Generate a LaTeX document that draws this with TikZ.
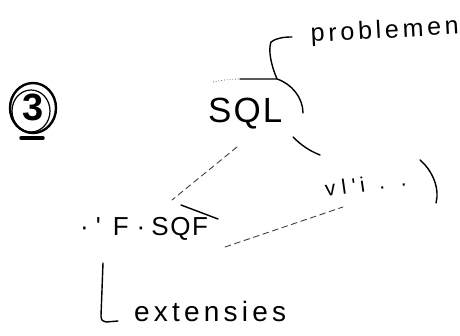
\documentclass[tikz,border=0pt]{standalone}
\usepackage{fontspec}
\newfontfamily\hand[LetterSpace=15]{Liberation Sans}
\newfontfamily\handN[LetterSpace=6]{Liberation Sans}
\begin{document}
\begin{tikzpicture}[x=1pt,y=-1pt,
  pen/.style={line width=1.4pt, line cap=round, line join=round, black},
  faint/.style={line width=0.9pt, line cap=round, dashed, dash pattern=on 6pt off 4pt, black!75},
  lbl/.style={inner sep=0pt, font=\hand}]
\useasboundingbox (0,0) rectangle (460,336);
\fill[white] (0,0) rectangle (460,336);
% circled 3
\node[lbl, font=\handN\bfseries\fontsize{38}{38}\selectfont] (three) at (33,107) {3};
\draw[line width=2.4pt] (33,108) circle [x radius=23pt, y radius=25pt];
\draw[line width=1.2pt] (31,111) circle [x radius=19pt, y radius=21pt];
\draw[line width=3.5pt, line cap=round] (21,138) -- (43,138);
% texts
\node[lbl, font=\handN\fontsize{35}{35}\selectfont, anchor=base west] (sql) at (208,123) {SQL};
\node[lbl, font=\hand\fontsize{25}{25}\selectfont, rotate=3, anchor=base west] (prob) at (311,42) {problemen};
\node[lbl, font=\handN\fontsize{26}{26}\selectfont, anchor=base west] (udf) at (80,236) {·\kern7pt'\kern12pt F\kern8pt·\kern6pt SQF};
\node[lbl, font=\hand\fontsize{21}{21}\selectfont, rotate=8, anchor=base west] (vlf) at (326,197) {v\kern6pt l\kern6pt '\kern4pt i\kern14pt .\kern16pt .};
\node[lbl, font=\hand\fontsize{28}{28}\selectfont, anchor=base west] (ext) at (134,321) {extensies};
% named points
\coordinate (arcL) at (213,82);
\coordinate (arcT) at (277,79);
\coordinate (arcR) at (303,113);
\coordinate (brTop) at (292,37);
\coordinate (sqlSE) at (293,137);
\coordinate (sqlSEend) at (320,155);
\coordinate (sqlSW) at (237,147);
\coordinate (udfNE) at (172,200);
\coordinate (udfE) at (225,247);
\coordinate (vlfW) at (343,207);
\coordinate (parT) at (420,160);
\coordinate (parB) at (436,203);
\coordinate (Ltop) at (103,263);
\coordinate (Lend) at (118,321);
% arc around SQL and bracket to problemen
\draw[line width=0.8pt, black!60, dotted] (arcL) .. controls (222,80) and (232,79) .. (240,79);
\draw[pen] (240,79) -- (arcT) .. controls (292,84) and (303,98) .. (arcR);
\draw[pen] (arcT) .. controls (271,65) and (268,50) .. (271,42) .. controls (276,38) and (284,37) .. (brTop);
% lines
\draw[pen] (sqlSE) .. controls (302,146) and (310,151) .. (sqlSEend);
\draw[faint] (sqlSW) -- (udfNE);
\draw[pen] (parT) .. controls (432,170) and (440,188) .. (parB);
\draw[faint] (udfE) -- (vlfW);
\draw[pen] (181,205) -- (218,219);
\draw[pen] (Ltop) -- (101,316) .. controls (101,320) and (103,322) .. (106,322) -- (Lend);
\end{tikzpicture}
\end{document}
